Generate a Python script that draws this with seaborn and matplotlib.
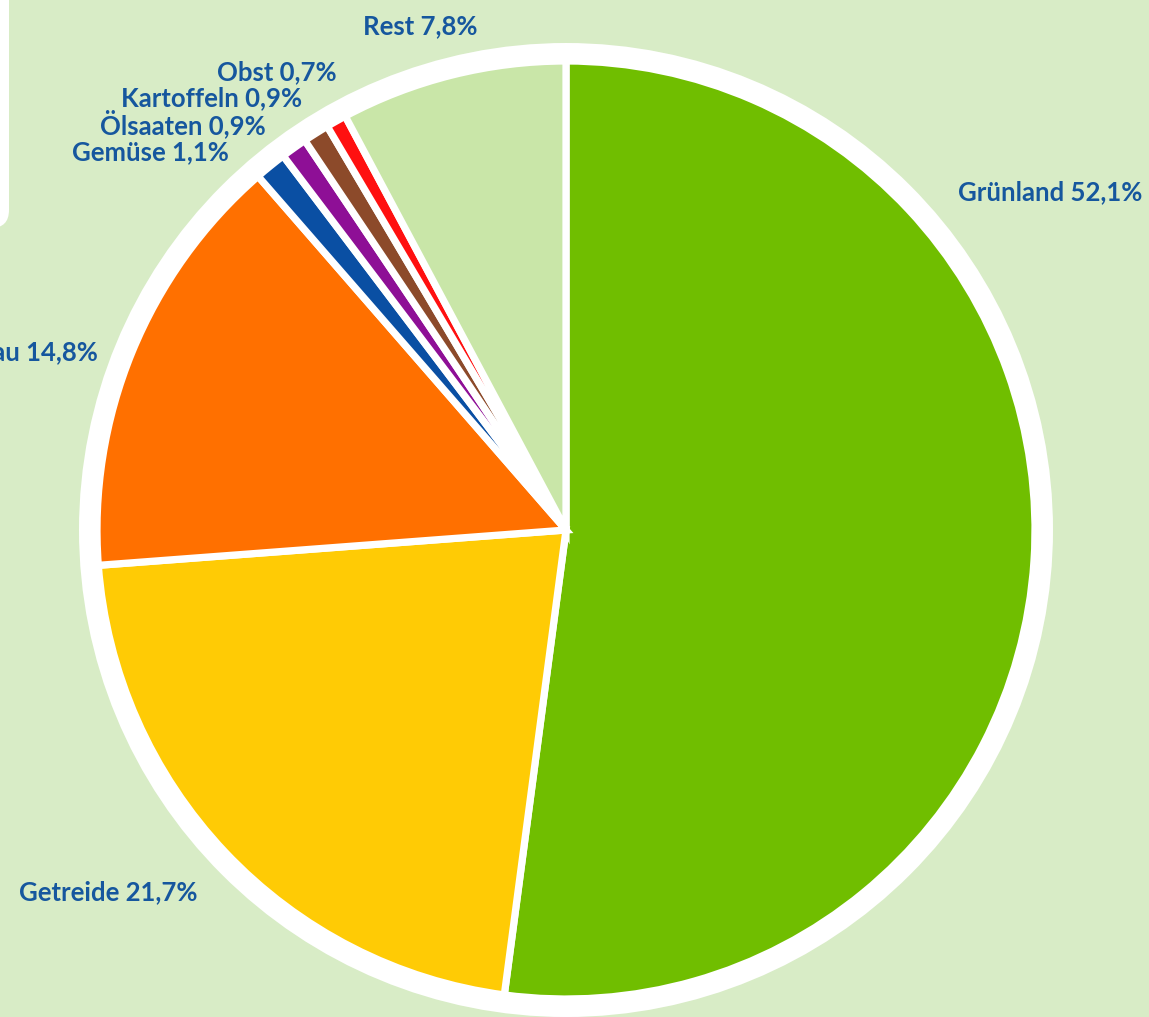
import numpy as np
import matplotlib.pyplot as plt
from matplotlib.patches import Circle, FancyBboxPatch
import seaborn as sns

# data, clockwise from 12 o'clock
categories = ['Grünland', 'Getreide', 'Futterbau', 'Gemüse', 'Ölsaaten', 'Kartoffeln', 'Obst', 'Rest']
shares = [52.1, 21.7, 14.8, 1.1, 0.9, 0.9, 0.7, 7.8]
share_labels = ['52,1%', '21,7%', '14,8%', '1,1%', '0,9%', '0,9%', '0,7%', '7,8%']
colors = ['#70be00', '#ffcb05', '#ff7000', '#0a4fa3', '#8e0f96', '#8c4a2a', '#ff1010', '#c9e6a8']

sns.set_style('white')
plt.rcParams['font.family'] = ['Lato', 'DejaVu Sans']

W, H = 1149, 1017
bg = '#d8ecc6'
txt = '#16579e'

fig = plt.figure(figsize=(W / 100, H / 100), dpi=100, facecolor=bg)
ax = fig.add_axes([0, 0, 1, 1])
ax.set_facecolor(bg)

cx, cy = 566, H - 530  # pie centre in pixels (y up)

# white ring around the pie
ax.add_patch(Circle((cx, cy), 487, facecolor='white', edgecolor='none', zorder=1))

wedges, _ = ax.pie(shares, colors=colors, startangle=90, counterclock=False,
                   center=(cx, cy), radius=469, frame=True,
                   wedgeprops=dict(edgecolor='white', linewidth=5.2))
for w in wedges:
    w.set_zorder(2)
ax.set_xlim(0, W)
ax.set_ylim(0, H)
ax.set_aspect('equal')
ax.axis('off')

# white box corner top-left
ax.add_patch(FancyBboxPatch((-60, H - 228), 69, 300,
                            boxstyle='round,pad=0,rounding_size=18',
                            facecolor='white', edgecolor='none', zorder=1))

# labels (x, y from top, alignment)
label_pos = {
    'Grünland': (958, 192, 'left'),
    'Getreide': (19, 892, 'left'),
    'Futterbau': (98, 352, 'right'),
    'Gemüse': (229, 152, 'right'),
    'Ölsaaten': (266, 124, 'right'),
    'Kartoffeln': (302, 98, 'right'),
    'Obst': (337, 72, 'right'),
    'Rest': (420, 26, 'center'),
}
for cat, lab in zip(categories, share_labels):
    x, y, ha = label_pos[cat]
    ax.text(x, H - y, f'{cat} {lab}', ha=ha, va='center', fontsize=18.5,
            fontweight='bold', color=txt, zorder=5)

fig.savefig('out.png', dpi=100, facecolor=bg)
